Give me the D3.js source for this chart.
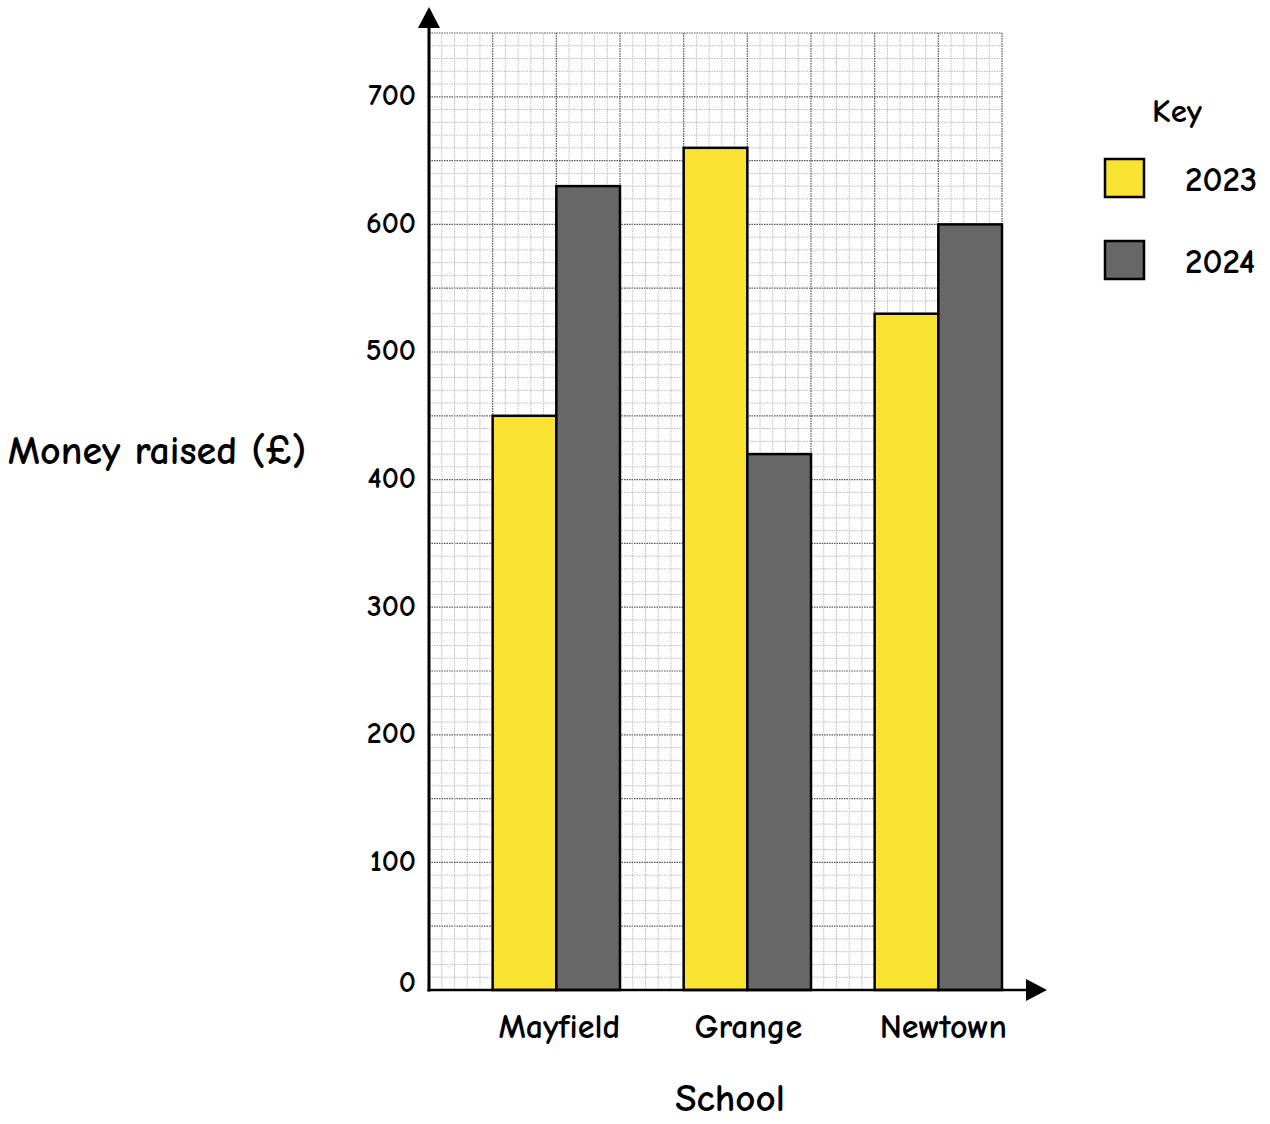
<!DOCTYPE html>
<html><head><meta charset="utf-8">
<script src="https://cdn.jsdelivr.net/npm/d3@7"></script>
<style>
body{margin:0;background:#fff;}
text{font-family:"Comic Sans MS","Comic Neue","Noto Sans",sans-serif;fill:#000;font-weight:700;}
</style></head>
<body>
<svg id="chart" width="1270" height="1124"></svg>
<script>
const schools = ["Mayfield", "Grange", "Newtown"];
const years = ["2023", "2024"];
const values2023 = [450, 660, 530];
const values2024 = [630, 420, 600];
const yTicks = [0, 100, 200, 300, 400, 500, 600, 700];
const colors = {"2023": "#F9E231", "2024": "#676767"};

const svg = d3.select("#chart");
const x0 = 429, x1 = 1002, yBase = 990, yTop = 33;
const y = d3.scaleLinear().domain([0, 750]).range([yBase, yTop]);
const gx = d3.scaleLinear().domain([0, 450]).range([x0, x1]);

// grid
const grid = svg.append("g");
d3.range(10, 751, 10).forEach(v => {
  const major = v % 50 === 0;
  grid.append("line").attr("x1", x0).attr("x2", x1).attr("y1", y(v)).attr("y2", y(v))
    .attr("stroke", major ? "#555" : "#bbb").attr("stroke-width", major ? 1.2 : 1)
    .attr("stroke-dasharray", "1.5,1");
});
d3.range(10, 451, 10).forEach(v => {
  const major = v % 50 === 0;
  grid.append("line").attr("x1", gx(v)).attr("x2", gx(v)).attr("y1", yTop).attr("y2", yBase)
    .attr("stroke", major ? "#555" : "#bbb").attr("stroke-width", major ? 1.2 : 1)
    .attr("stroke-dasharray", "1.5,1");
});

// bands
const xBand = d3.scaleBand().domain(schools).range([x0, x1]).paddingInner(1/3).paddingOuter(1/6).align(1);
const xSub = d3.scaleBand().domain(years).range([0, xBand.bandwidth()]);

const data = schools.map((s, i) => ({school: s, vals: [{year: "2023", v: values2023[i]}, {year: "2024", v: values2024[i]}]}));
const groups = svg.append("g").selectAll("g").data(data).join("g")
  .attr("transform", d => `translate(${xBand(d.school)},0)`);
groups.selectAll("rect").data(d => d.vals).join("rect")
  .attr("x", d => xSub(d.year)).attr("width", xSub.bandwidth())
  .attr("y", d => y(d.v)).attr("height", d => y(0) - y(d.v))
  .attr("fill", d => colors[d.year]).attr("stroke", "#000").attr("stroke-width", 2.5);

// axes
svg.append("line").attr("x1", x0).attr("x2", x0).attr("y1", yBase + 1.5).attr("y2", 24)
  .attr("stroke", "#000").attr("stroke-width", 3);
svg.append("path").attr("d", `M${x0},7 L${x0 - 11},28 L${x0 + 11},28 Z`).attr("fill", "#000");
svg.append("line").attr("x1", x0 - 1.5).attr("x2", 1028).attr("y1", yBase).attr("y2", yBase)
  .attr("stroke", "#000").attr("stroke-width", 2.5);
svg.append("path").attr("d", `M1047,${yBase} L1026,${yBase - 11} L1026,${yBase + 11} Z`).attr("fill", "#000");

// y tick labels
svg.append("g").selectAll("text").data(yTicks).join("text")
  .attr("x", 416).attr("y", d => y(d) + (d === 0 ? -5 : 1)).attr("text-anchor", "end").attr("dominant-baseline", "middle")
  .attr("font-size", 30).text(d => d);

// x labels
const labelShift = {"Mayfield": 3, "Grange": 1, "Newtown": 5};
svg.append("g").selectAll("text").data(schools).join("text")
  .attr("x", d => xBand(d) + xBand.bandwidth() / 2 + labelShift[d]).attr("y", 1038).attr("text-anchor", "middle")
  .attr("font-size", 34).text(d => d);

svg.append("text").attr("x", 730).attr("y", 1111).attr("text-anchor", "middle").attr("font-size", 39).text("School");
svg.append("text").attr("x", 157).attr("y", 464).attr("text-anchor", "middle").attr("font-size", 40).text("Money raised (£)");

// legend
svg.append("text").attr("x", 1177).attr("y", 122).attr("text-anchor", "middle").attr("font-size", 33).text("Key");
const leg = svg.append("g").selectAll("g").data(years).join("g")
  .attr("transform", (d, i) => `translate(1105,${159 + i * 82})`);
leg.append("rect").attr("width", 39).attr("height", 38).attr("fill", d => colors[d])
  .attr("stroke", "#000").attr("stroke-width", 2.5);
leg.append("text").attr("x", 80).attr("y", 32).attr("font-size", 35).text(d => d);
</script>
</body></html>
